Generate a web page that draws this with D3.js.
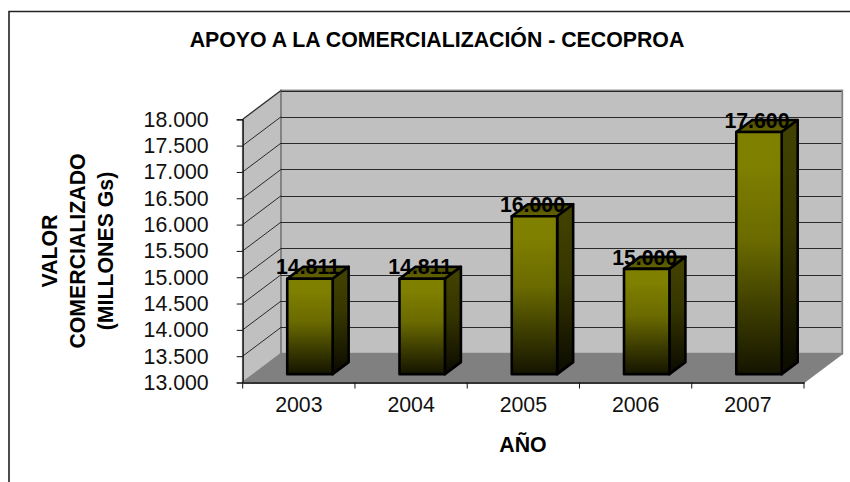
<!DOCTYPE html>
<html><head><meta charset="utf-8">
<script src="https://cdn.jsdelivr.net/npm/d3@7/dist/d3.min.js"></script>
<style>html,body{margin:0;padding:0;background:#fff}svg{display:block;font-family:"Liberation Sans",Arial,sans-serif}</style>
</head><body>
<svg id="c" width="850" height="482"></svg>
<script>
const titleText = "APOYO A LA COMERCIALIZACIÓN - CECOPROA";
const xTitle = "AÑO";
const yTitleLines = ["VALOR", "COMERCIALIZADO", "(MILLONES Gs)"];
const categories = ["2003", "2004", "2005", "2006", "2007"];
const values = [14811, 14811, 16000, 15000, 17600];
const yDomain = [13000, 18000];
const yTicks = [13000, 13500, 14000, 14500, 15000, 15500, 16000, 16500, 17000, 17500, 18000];

const svg = d3.select("#c");
const L = 242.7, R = 804, B = 382.5, T = 119.3;
const DX = 38.3, DY = -28.8;
const FS = 21.3;
const x = d3.scaleBand().domain(categories).range([L, R]).paddingInner(0).paddingOuter(0);
const y = d3.scaleLinear().domain(yDomain).range([B, T]);
const fmt = d3.formatLocale({decimal: ",", thousands: ".", grouping: [3], currency: ["", ""]}).format(",d");
const barW = 45.4, fz = 0.29; // front-of-bar depth fraction
const bx = DX * fz, by = DY * fz;          // front plane of the bar
const depthX = 16, depthY = -12;           // bar depth

const defs = svg.append("defs");
function grad(id, stops) {
  const g = defs.append("linearGradient").attr("id", id).attr("x1", 0).attr("y1", 0).attr("x2", 0).attr("y2", 1);
  stops.forEach(s => g.append("stop").attr("offset", s[0]).attr("stop-color", s[1]));
}
grad("front", [[0, "#808000"], [0.12, "#808000"], [0.45, "#6a6a00"], [0.75, "#3a3a00"], [1, "#141400"]]);
grad("side", [[0, "#404000"], [0.12, "#404000"], [0.45, "#353500"], [0.75, "#1d1d00"], [1, "#0a0a00"]]);
grad("top", [[0, "#4a4a00"], [1, "#666600"]]);

const pts = a => a.map(p => p.join(",")).join(" ");

// chart frame (open at the right and bottom, cropped in the source)
svg.append("path").attr("d", "M9,482V11.5H850").attr("fill", "none").attr("stroke", "#222").attr("stroke-width", 1.6);

// walls
svg.append("polygon").attr("points", pts([[L, B], [L + DX, B + DY], [R + DX, B + DY], [R, B]])).attr("fill", "#808080");
svg.append("polygon").attr("points", pts([[L, T], [L + DX, T + DY], [L + DX, B + DY], [L, B]]))
  .attr("fill", "#c0c0c0").attr("stroke", "#808080").attr("stroke-width", 1.6);
svg.append("rect").attr("x", L + DX).attr("y", T + DY).attr("width", R - L).attr("height", B - T)
  .attr("fill", "#c0c0c0").attr("stroke", "#808080").attr("stroke-width", 1.8);
svg.append("path").attr("d", `M${R},${B}L${R + DX},${B + DY}`).attr("stroke", "#808080").attr("stroke-width", 1.2).attr("fill", "none");

// gridlines
const grid = svg.append("g").attr("stroke", "#111").attr("stroke-width", 1).attr("fill", "none").attr("opacity", 0.85);
yTicks.slice(1).forEach(t => {
  const yy = Math.round(y(t) + DY) + 0.5;
  grid.append("path").attr("d", `M${L + DX},${yy}H${R + DX - 1}`);
  grid.append("path").attr("d", `M${L},${y(t)}L${L + DX},${y(t) + DY}`);
});

// axes
const yAxis = svg.append("g").attr("transform", `translate(${L},0)`)
  .call(d3.axisLeft(y).tickValues(yTicks).tickFormat(fmt).tickSize(6).tickPadding(28));
yAxis.selectAll("path").attr("stroke", "#111").attr("stroke-width", 1.2);
yAxis.selectAll("line").attr("stroke", "#111");
yAxis.selectAll("text").attr("font-size", FS).attr("fill", "#111").attr("font-family", "Liberation Sans");

const xAxis = svg.append("g").attr("transform", `translate(0,${B})`)
  .call(d3.axisBottom(x).tickSize(0).tickPadding(14.5));
xAxis.select("path").attr("stroke", "#333").attr("stroke-width", 2);
xAxis.selectAll("text").attr("font-size", FS).attr("fill", "#111").attr("font-family", "Liberation Sans");
const xTickPos = categories.map(c => x(c)).concat([R]);
svg.append("g").selectAll("line").data(xTickPos).join("line")
  .attr("x1", d => d).attr("x2", d => d).attr("y1", B).attr("y2", B + 6).attr("stroke", "#111");

// bars
const barG = svg.append("g").selectAll("g").data(categories.map((c, i) => ({c, v: values[i]}))).join("g");
barG.each(function (d) {
  const g = d3.select(this);
  const x0 = x(d.c) + x.bandwidth() / 2 - barW / 2 + bx, x1 = x0 + barW;
  const y0 = y(d.v) + by, y1 = y(yDomain[0]) + by;
  const common = s => s.attr("stroke", "#000").attr("stroke-width", 2.6).attr("stroke-linejoin", "round");
  common(g.append("polygon").attr("points", pts([[x0, y0], [x0 + depthX, y0 + depthY], [x1 + depthX, y0 + depthY], [x1, y0]])).attr("fill", "url(#top)"));
  common(g.append("polygon").attr("points", pts([[x1, y0], [x1 + depthX, y0 + depthY], [x1 + depthX, y1 + depthY], [x1, y1]])).attr("fill", "url(#side)"));
  common(g.append("rect").attr("x", x0).attr("y", y0).attr("width", barW).attr("height", y1 - y0).attr("fill", "url(#front)"));
});
// value labels
barG.append("text")
  .attr("x", d => x(d.c) + x.bandwidth() / 2 + bx - 2)
  .attr("y", d => y(d.v) + by + depthY)
  .attr("dy", "0.36em").attr("text-anchor", "middle")
  .attr("font-size", FS).attr("font-weight", "bold").attr("fill", "#000")
  .text(d => fmt(d.v));

// titles
svg.append("text").attr("x", 437).attr("y", 47).attr("text-anchor", "middle")
  .attr("font-size", FS).attr("font-weight", "bold").attr("fill", "#000").text(titleText);
svg.append("text").attr("x", 523).attr("y", 452).attr("text-anchor", "middle")
  .attr("font-size", FS).attr("font-weight", "bold").attr("fill", "#000").text(xTitle);
const yT = svg.append("text").attr("transform", "translate(85,251) rotate(-90)")
  .attr("text-anchor", "middle").attr("font-size", FS).attr("font-weight", "bold").attr("fill", "#000");
yTitleLines.forEach((l, i) => yT.append("tspan").attr("x", 0).attr("y", (i - 1) * 28).text(l));
</script>
</body></html>
